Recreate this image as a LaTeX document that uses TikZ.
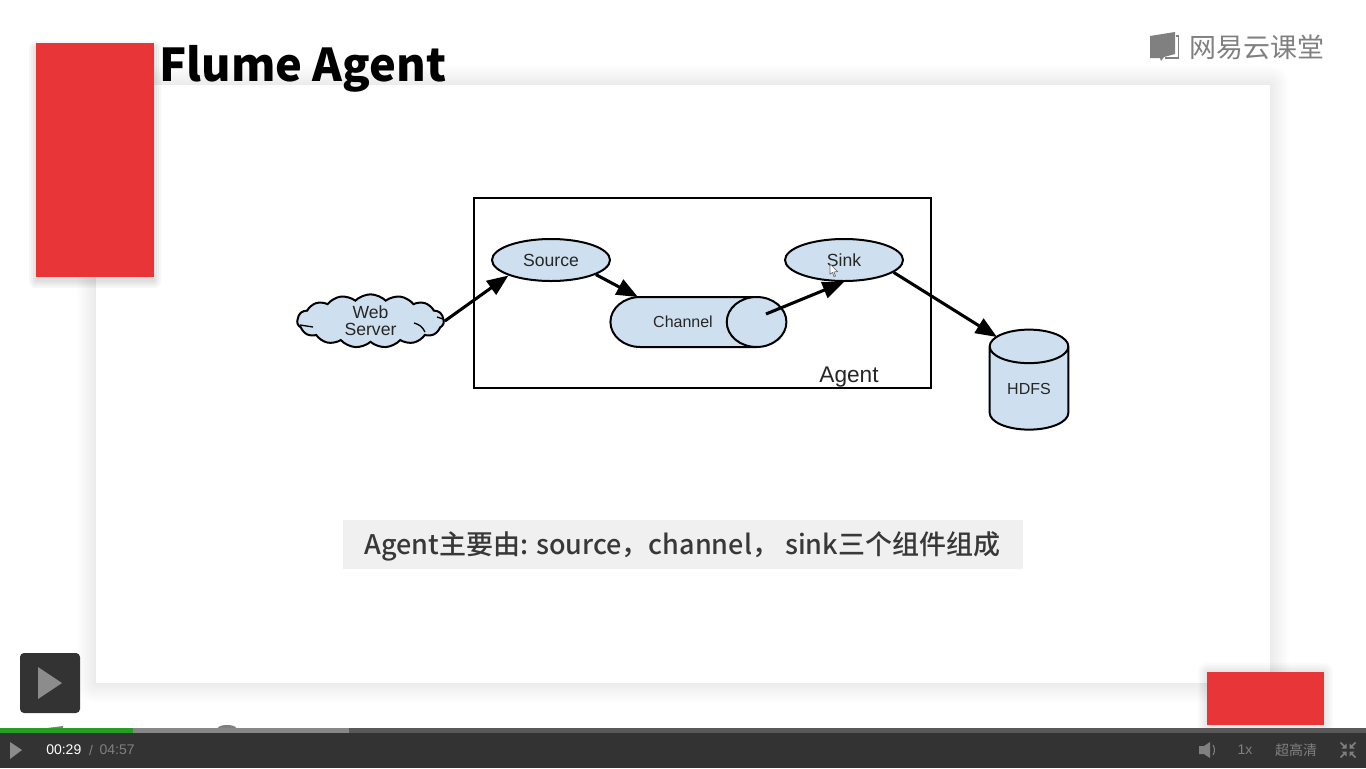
\documentclass[tikz,border=0pt]{standalone}
\usepackage{fontspec}
\setmainfont{Liberation Sans}
\newfontfamily\cjk{Noto Sans CJK SC}
\newfontfamily\cjkmed{Noto Sans CJK SC Medium}
\usetikzlibrary{arrows.meta,shapes.geometric,shapes.symbols,positioning}
\definecolor{flumeblue}{HTML}{CEE0F0}
\definecolor{flumered}{HTML}{E83538}
\definecolor{barcol}{HTML}{333333}
\newcommand{\softshadow}[6]{\foreach \s in {1,3,...,#5} \fill[black,opacity=#6,rounded corners=\s*0.75pt] (#1-\s,#2-\s) rectangle (#3+\s,#4+\s);}
\tikzset{x=0.75pt, y=-0.75pt,
  part/.style={draw=black, fill=flumeblue, line width=1.5pt, text=black!85},
  src/.style={part, ellipse, minimum width=88.5pt, minimum height=31.5pt, inner sep=0pt, font=\fontsize{13.2}{14}\selectfont},
  pipe/.style={part, cylinder, inner sep=0pt, font=\fontsize{12}{14}\selectfont},
  flow/.style={line width=2.3pt, -{Triangle[length=16pt,width=12.5pt]}},
  ctl/.style={text=#1, inner sep=0pt, font=\fontsize{10.5}{12}\selectfont}}

\begin{document}
\begin{tikzpicture}
    \useasboundingbox (0,0) rectangle (1366,768);
    \fill[white] (0,0) rectangle (1366,768);
    % slide
    \softshadow{96}{85}{1270}{683}{19}{.009}
    \fill[white] (96,85) rectangle (1270,683);
    \softshadow{36}{48}{154}{281}{7}{.03}
    \fill[flumered] (36,43) rectangle (154,277);
    \softshadow{1207}{672}{1324}{725}{9}{.02}
    \fill[flumered] (1207,672) rectangle (1324,725);
    \node[anchor=base west, inner sep=0pt, font=\cjk\bfseries\fontsize{33.9}{40}\selectfont] (title) at (159,81) {Flume Agent};

    % logo
    \fill[black!50] (1150,36) -- (1175,32) -- (1175,54) -- (1164,57) -- (1161,61) -- (1160,58) -- (1150,58) -- cycle;
    \draw[black!50, line width=1pt] (1175.5,36) -- (1178.5,36) -- (1178.5,58) -- (1165,58);
    \node[anchor=west, inner sep=0pt, text=black!50, font=\cjk\fontsize{20.2}{24}\selectfont] (logo) at (1189,47) {网易云课堂};

    % agent diagram
    \node[draw=black, line width=1.5pt, minimum width=343pt, minimum height=142.5pt, inner sep=0pt] (agent) at (702.5,293) {};
    \node[inner sep=0pt, text=black!85, font=\fontsize{17}{18}\selectfont] (agentlabel) at (849,377.5) {Agent};
    \node[part, cloud, cloud puffs=15, cloud puff arc=90, aspect=3, minimum width=110pt, minimum height=40pt, inner sep=0pt, align=center, font=\fontsize{13.2}{12.5}\selectfont] (web) at (370.5,321) {Web\\Server};
    \draw[line width=1pt] (414,323) to[bend left=25] (425,332);
    \draw[line width=1pt] (437,317) -- (443,319);
    \draw[line width=1pt] (300,325) -- (313,327);
    \node[src] (source) at (551,260) {Source};
    \node[src] (sink) at (844,260) {Sink};
    \node[pipe, shape aspect=5.08, minimum width=37.5pt, minimum height=132pt] (channel) at (683,322) {Channel};
    \node[pipe, shape aspect=0.77, shape border rotate=90, minimum width=59pt, minimum height=75pt] (hdfs) at (1029,388.5) {HDFS};
    \coordinate (channelin) at (638,297);
    \coordinate (channelout) at (766,314);
    \coordinate (hdfsin) at (997,337);

    \draw[flow] (web.east) -- (source.200);
    \draw[flow] (source.-18) -- (channelin);
    \draw[flow] (channelout) -- (sink.-90);
    \draw[flow] (sink.-14) -- (hdfsin);
    % pointer
    \draw[black!60, fill=white, line width=0.5pt] (830,264) -- (830,274) -- (832.5,272.5) -- (834,276.5) -- (835.5,276) -- (834,272) -- (837.5,271.5) -- cycle;

    % caption
    \node[fill=black!6, minimum width=510pt, minimum height=36.75pt, inner sep=0pt] (captionbox) at (683,544.5) {};
    \node[anchor=base west, inner sep=0pt, text=black!78, font=\cjkmed\fontsize{20.25}{24}\selectfont] (caption) at (364,554) {Agent主要由: source，channel， sink三个组件组成};

    % player
    \fill[barcol, rounded corners=3pt] (20,653) rectangle (80,713);
    \fill[black!45] (38,667) -- (62,683) -- (38,699) -- cycle;
    \fill[black!50] (47,728) -- (63,726) -- (63,728) -- cycle;
    \fill[black!50] (218,728) arc[start angle=180, end angle=360, x radius=9, y radius=3];
    \fill[barcol] (0,733) rectangle (1366,768);
    \fill[black!65] (0,728) rectangle (1366,733);
    \fill[black!47] (0,728) rectangle (349,733);
    \fill[green!55!black!85] (0,728) rectangle (133,733);
    \fill[black!45] (10,742) -- (22,750) -- (10,759) -- cycle;
    \node[ctl=white, anchor=west] (now) at (46,750) {00:29};
    \node[ctl=black!50, right=5.5pt of now] (sep) {/};
    \node[ctl=black!50, right=4.5pt of sep] (total) {04:57};
    \fill[black!50] (1199,746) -- (1204,746) -- (1210,742) -- (1210,758) -- (1204,754) -- (1199,754) -- cycle;
    \draw[black!50, line width=0.8pt] (1213,745) to[bend left=30] (1213,755);
    \node[ctl=black!50] (speed) at (1245,750) {1x};
    \node[ctl=black!50, font=\cjk\fontsize{10.5}{12}\selectfont] (quality) at (1296,750) {超高清};
    \foreach \i/\j in {-1/-1,1/-1,-1/1,1/1} {
        \fill[black!50] (1348+\i*1.5,750+\j*1.5) -- (1348+\i*6.5,750+\j*1.5) -- (1348+\i*1.5,750+\j*6.5) -- cycle;
        \draw[black!50, line width=1.2pt] (1348+\i*3.5,750+\j*3.5) -- (1348+\i*7.5,750+\j*7.5);
    }
\end{tikzpicture}
\end{document}
